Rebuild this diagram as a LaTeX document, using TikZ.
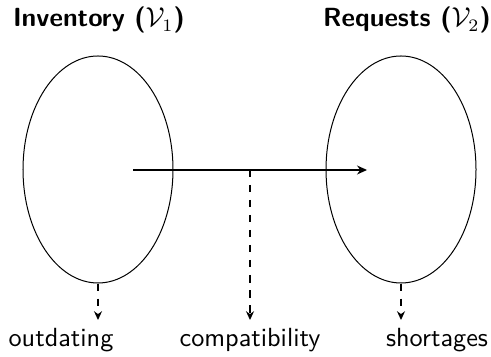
\documentclass[tikz,border=0pt]{standalone}
\usetikzlibrary{shapes.geometric,arrows.meta}
\begin{document}
\begin{tikzpicture}[x=0.4pt,y=-0.4pt,
  setnode/.style={draw,ellipse,line width=0.4pt,minimum width=60pt,minimum height=90.8pt,inner sep=0pt},
  title/.style={font=\fontsize{10.5}{12}\selectfont\sffamily\bfseries,anchor=base,inner sep=0pt},
  lbl/.style={font=\fontsize{10.5}{12}\selectfont\sffamily,anchor=base,inner sep=0pt},
  flow/.style={line width=0.5pt,-{Stealth[length=4pt,width=3.6pt]}},
  dflow/.style={line width=0.5pt,dashed,-{Stealth[length=3.5pt,width=3.2pt]}}]
\useasboundingbox (0,0) rectangle (491,357);
\node[setnode] (v1) at (98,169.5) {};
\node[setnode] (v2) at (401,169.5) {};
\node[title] (t1) at (99,27) {Inventory ($\mathcal{V}_1$)};
\node[title] (t2) at (407,27) {Requests ($\mathcal{V}_2$)};
\coordinate (a) at (133,170);
\coordinate (b) at (367,170);
\coordinate (m) at (250,170);
\coordinate (mt) at (250,320);
\coordinate (ot) at (98,320);
\coordinate (st) at (401,320);
\node[lbl] (lo) at (61,346) {outdating};
\node[lbl] (lc) at (250,346) {compatibility};
\node[lbl] (ls) at (437,346) {shortages};
\draw[flow] (a) -- (b);
\draw[dflow] (m) -- (mt);
\draw[dflow] (v1.south) -- (ot);
\draw[dflow] (v2.south) -- (st);
\end{tikzpicture}
\end{document}
